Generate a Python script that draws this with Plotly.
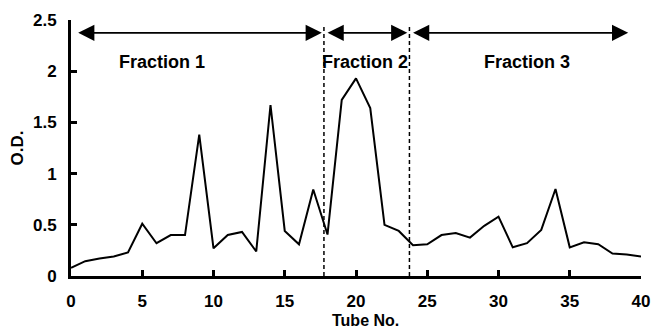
import plotly.graph_objects as go

# Optical density readings for each collected tube
tubes = list(range(0, 41))
od = [0.08, 0.145, 0.17, 0.19, 0.23, 0.51, 0.32, 0.40, 0.40, 1.38,
      0.27, 0.40, 0.43, 0.24, 1.67, 0.44, 0.31, 0.845, 0.405, 1.72,
      1.93, 1.64, 0.50, 0.44, 0.30, 0.31, 0.40, 0.42, 0.375, 0.49,
      0.58, 0.28, 0.32, 0.45, 0.85, 0.28, 0.33, 0.31, 0.22, 0.21, 0.19]

# Fraction pooling: boundaries between pools and the label of each pool
boundaries = [17.75, 23.75]
fraction_names = ["Fraction 1", "Fraction 2", "Fraction 3"]
fraction_spans = [(0.4, 17.6), (17.9, 23.6), (23.9, 39.1)]
fraction_label_x = [6.4, 20.6, 32.0]

x_ticks = [0, 5, 10, 15, 20, 25, 30, 35, 40]
y_ticks = [0, 0.5, 1, 1.5, 2, 2.5]

FONT = "Liberation Sans, Arial, sans-serif"

fig = go.Figure()
fig.add_trace(go.Scatter(
    x=tubes, y=od, mode="lines",
    line=dict(color="black", width=2),
    showlegend=False, hoverinfo="skip",
))

shapes = []
for b in boundaries:
    shapes.append(dict(type="line", xref="x", yref="y", x0=b, x1=b, y0=0, y1=2.46,
                       line=dict(color="black", width=1.5, dash="4px,3px")))

annotations = []
arrow_y = 2.375
for (x0, x1) in fraction_spans:
    annotations.append(dict(
        x=x1, y=arrow_y, ax=x0, ay=arrow_y, xref="x", yref="y", axref="x", ayref="y",
        text="", showarrow=True, arrowhead=2, arrowsize=1.8, arrowwidth=1.8,
        arrowside="end+start", arrowcolor="black", standoff=0, startstandoff=0,
    ))
for name, lx in zip(fraction_names, fraction_label_x):
    annotations.append(dict(
        x=lx, y=2.09, xref="x", yref="y", text=name, showarrow=False,
        font=dict(family=FONT, size=18, color="black", weight="bold"),
    ))
# x-axis title, placed just under the tick labels
annotations.append(dict(
    x=0.516, y=-0.175, xref="paper", yref="paper", text="Tube No.",
    showarrow=False, xanchor="center", yanchor="middle",
    font=dict(family=FONT, size=16, color="black", weight="bold"),
))

fig.update_layout(
    width=653, height=335,
    margin=dict(l=71, r=12, t=20, b=59),
    paper_bgcolor="white", plot_bgcolor="white",
    shapes=shapes, annotations=annotations,
    font=dict(family=FONT, color="black"),
)
fig.update_xaxes(
    range=[0, 40], tickvals=x_ticks, ticktext=[str(t) for t in x_ticks],
    automargin=False,
    showgrid=False, zeroline=False, showline=True, linecolor="black", linewidth=3,
    ticks="inside", ticklen=6, tickwidth=3, tickcolor="black",
    ticklabelstandoff=8,
    tickfont=dict(family=FONT, size=17, color="black", weight="bold"),
)
fig.update_yaxes(
    range=[0, 2.5], tickvals=y_ticks, ticktext=["0", "0.5", "1", "1.5", "2", "2.5"],
    automargin=False,
    showgrid=False, zeroline=False, showline=True, linecolor="black", linewidth=3,
    ticks="inside", ticklen=6, tickwidth=3, tickcolor="black",
    ticklabelstandoff=8,
    tickfont=dict(family=FONT, size=17, color="black", weight="bold"),
    title=dict(text="O.D.", standoff=6,
               font=dict(family=FONT, size=17, color="black", weight="bold")),
)

fig.write_html("out.html")
